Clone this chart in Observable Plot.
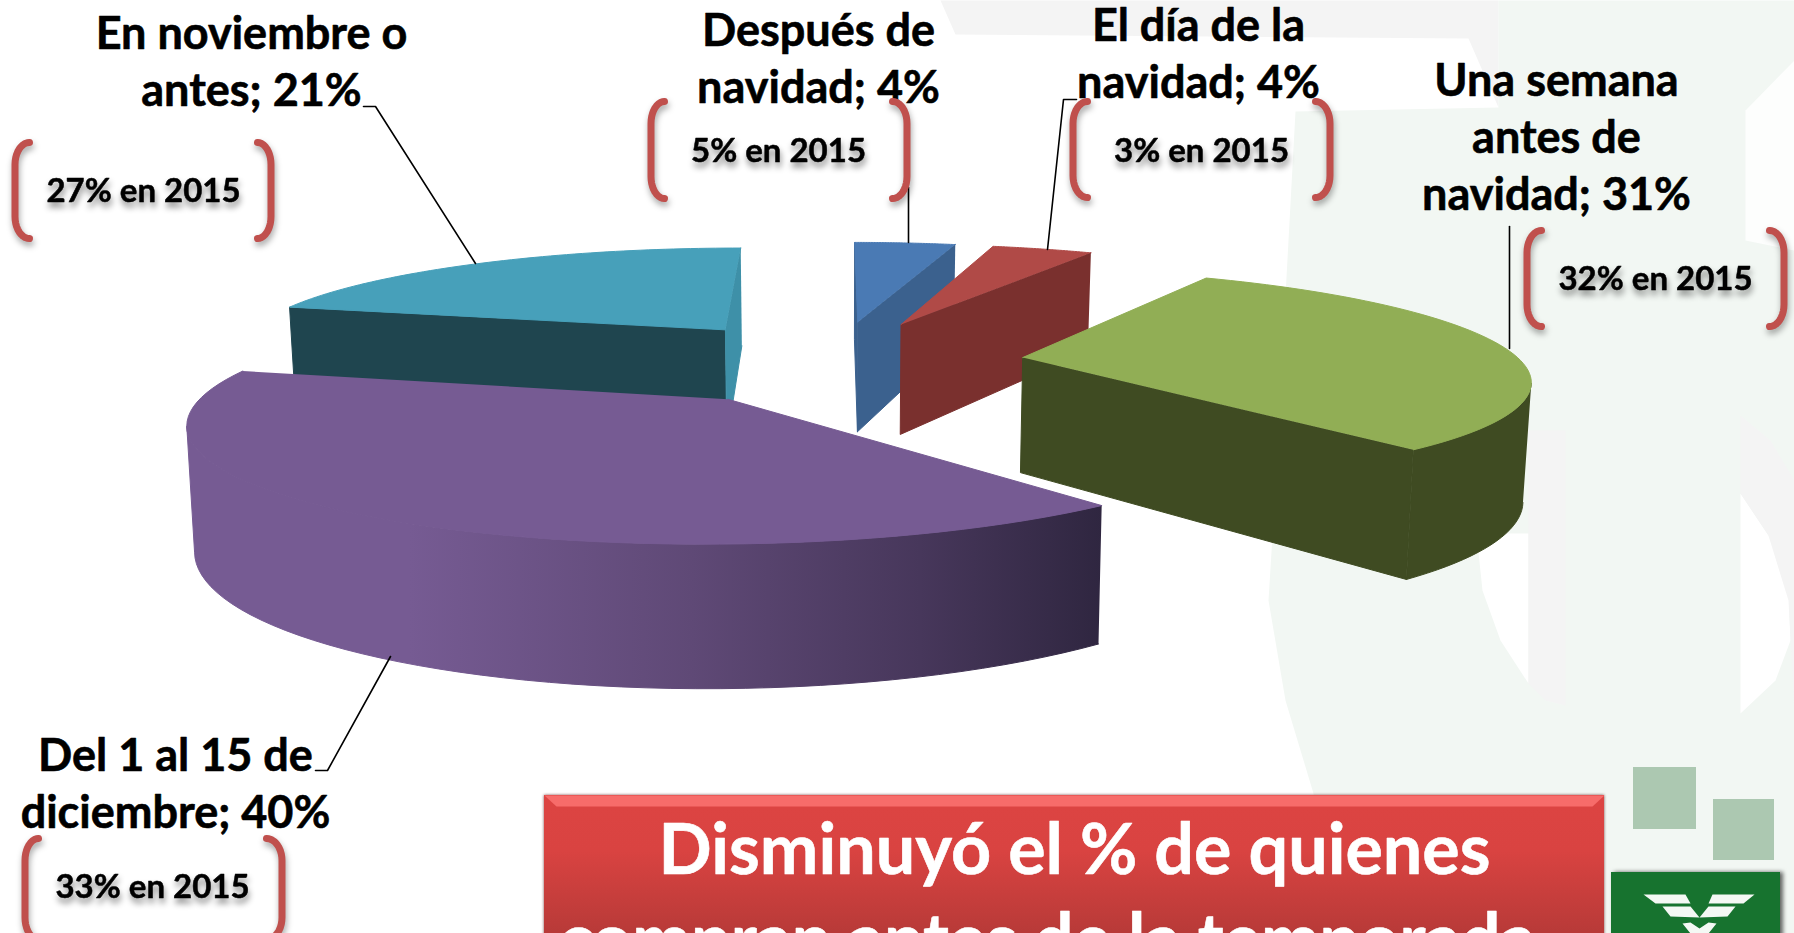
<!DOCTYPE html>
<html lang="es">
<head>
<meta charset="utf-8">
<title>Compras de temporada</title>
<script src="https://cdn.jsdelivr.net/npm/d3@7"></script>
<script src="https://cdn.jsdelivr.net/npm/@observablehq/plot@0.6"></script>
<style>
html,body{margin:0;padding:0;background:#fff;overflow:hidden}
svg{display:block}
</style>
</head>
<body>
<div id="chart"></div>
<script>
// ---- data ----
const categories = ["Después de\nnavidad", "El día de la\nnavidad", "Una semana\nantes de\nnavidad", "Del 1 al 15 de\ndiciembre", "En noviembre o\nantes"];
const values2016 = [4, 4, 31, 40, 21];
const values2015 = [5, 3, 32, 33, 27];
const headlineLines = ["Disminuyó el % de quienes", "compran antes de la temporada"];

// ---- styles of the slices ----
const topColors  = ["#4a7ab4", "#b04a47", "#91ae55", "#765b93", "#47a0ba"];
const wallColors = ["#3b618e", "#7a302e", "#3f4b22", "url(#purpleWall)", "#1f454f"];
const cutStart   = ["#3b618e", "#7a302e", "#3f4b22", "#5a4570", "#1f454f"];
const cutEnd     = ["#3b618e", "#7a302e", "#3f4b22", "#5a4570", "#3e90a8"];
const drawOrder  = [4, 0, 1, 2, 3];

// ---- perspective camera of the 3-D pie ----
const cam = {cx: 835, cy: 361, R: 498, B: 105.5, k: 0.17, explodeU: 0.38, explodeV: 0.40};
function project(u, v, bottom) {
  const s = 1 / (1 - cam.k * v);
  let x = cam.cx + cam.R * u * s;
  let y = cam.cy + cam.B * v * s;
  if (bottom) {
    x = cam.cx + 0.988 * (x - cam.cx);
    y = y + 110 + 0.158 * (y - 325);
  }
  return {x, y};
}
const dir = (deg) => [Math.sin(deg * Math.PI / 180), -Math.cos(deg * Math.PI / 180)];

// ---- faces of each slice, derived from the values ----
let cum = 0;
const sliceFaces = values2016.map((value, i) => {
  const a0 = cum * 3.6, a1 = (cum + value) * 3.6;
  cum += value;
  const mid = dir((a0 + a1) / 2);
  const eu = mid[0] * cam.explodeU, ev = mid[1] * cam.explodeV;
  const n = 64;
  const rimW = d3.range(n + 1).map((j) => {
    const [u, v] = dir(a0 + (a1 - a0) * j / n);
    return [eu + u, ev + v];
  });
  const apexT = project(eu, ev, false), apexB = project(eu, ev, true);
  const rimT = rimW.map(([u, v]) => project(u, v, false));
  const rimB = rimW.map(([u, v]) => project(u, v, true));
  const faces = [];
  if (rimT[0].x < apexT.x) faces.push({pts: [apexT, rimT[0], rimB[0], apexB], color: cutStart[i]});
  if (apexT.x < rimT[n].x) faces.push({pts: [rimT[n], apexT, apexB, rimB[n]], color: cutEnd[i]});
  const vis = d3.range(n).filter((j) => rimT[j + 1].x < rimT[j].x);
  if (vis.length) {
    const lo = vis[0], hi = vis[vis.length - 1] + 1;
    faces.push({pts: [...rimT.slice(lo, hi + 1), ...rimB.slice(lo, hi + 1).reverse()], color: wallColors[i]});
  }
  faces.push({pts: [apexT, ...rimT], color: topColors[i]});
  return faces;
});

// ---- annotation layout ----
const labelPlace = [[818, 45], [1198, 40], [1556, 95], [175, 770], [251, 48]];
const notePlace  = [[778, 161], [1201, 161], [1655, 289], [152, 897], [143, 201]];
const headPlace  = [[1074, 873], [1047, 963]];
const bracketPlace = [
  [647, 664, 892, 910, 100, 199], [1069, 1087, 1315, 1333, 100, 198],
  [1523, 1541, 1769, 1787, 229, 327], [21, 38, 266, 285, 837, 940], [11, 29, 257, 274, 141, 239]
];
const leaders = [
  [[908, 187], [908, 242]],
  [[1076, 99], [1063, 99], [1047, 249]],
  [[1509, 226], [1509, 348]],
  [[315, 770], [327, 770], [390, 656]],
  [[363, 106], [375, 106], [475, 263]]
];
const fontFamily = "Lato, Carlito, sans-serif";
const labelSize = 45, labelLead = 57.5, noteSize = 33, headSize = 70;

function bracket(xOuter, xInner, y0, y1, side) {
  const w = 3.5;
  const xo = xOuter + (side < 0 ? w : 0), xi = xInner - (side > 0 ? w : 0);
  const r = xi - xo, ry = 22;
  const ya = y0 + 1, yb = y1 - 1;
  const arc = (cy, a0, a1) => d3.range(0, 11).map((j) => {
    const a = (a0 + (a1 - a0) * j / 10) * Math.PI / 180;
    return [xi - r * Math.cos(a), cy + ry * Math.sin(a)];
  });
  const pts = [...arc(ya + ry, -90, 0), ...arc(yb - ry, 0, 90)];
  return side < 0 ? pts : pts.map(([x, y]) => [xo + xi - x, y]);
}

const poly = (pts, fill, extra = {}) =>
  Plot.line(pts, {x: (d) => d[0], y: (d) => d[1], fill, stroke: "none", ...extra});

// ---- background watermark ----
const pale = "#f2f7f3", greyWm = "#f4f4f4";
const watermark = [
  poly([[940, 0], [1498, 0], [1498, 107], [1468, 38], [955, 34]], greyWm),
  poly([[1498, 0], [1794, 0], [1794, 933], [1330, 933], [1313, 793], [1285, 700], [1268, 600], [1272, 535], [1295, 111], [1498, 107]], pale),
  poly([[1476, 533], [1528, 533], [1528, 683], [1500, 640], [1482, 590]], "#ffffff"),
  poly([[1528, 430], [1565, 430], [1565, 705], [1545, 700], [1528, 683]], greyWm),
  poly([[1740, 493], [1768, 535], [1788, 590], [1790, 640], [1775, 680], [1740, 713]], "#ffffff"),
  poly([[1740, 415], [1770, 440], [1794, 480], [1794, 715], [1788, 600], [1768, 535], [1740, 493]], greyWm),
  poly([[1794, 60], [1745, 110], [1745, 240], [1794, 250]], "#fdfefd")
];

// ---- page furniture: gradients ----
function defs() {
  const svg = d3.create("svg:defs");
  const grad = (id, x1, y1, x2, y2, stops) => {
    const g = svg.append("linearGradient").attr("id", id).attr("gradientUnits", "userSpaceOnUse")
      .attr("x1", x1).attr("y1", y1).attr("x2", x2).attr("y2", y2);
    stops.forEach(([o, c]) => g.append("stop").attr("offset", o).attr("stop-color", c));
  };
  grad("purpleWall", 190, 0, 1102, 0, [[0, "#765b93"], [0.24, "#765b93"], [0.55, "#5f4976"], [0.8, "#47375b"], [1, "#2f2640"]]);
  grad("boxFill", 0, 806, 0, 933, [[0, "#dc4442"], [0.35, "#d94341"], [1, "#b83a38"]]);
  return svg.node();
}

const pieMarks = drawOrder.flatMap((i) => sliceFaces[i].map((f) =>
  Plot.line(f.pts, {x: "x", y: "y", fill: f.color, stroke: f.color, strokeWidth: 1})));

const labelRows = categories.map((c, i) => ({
  text: `${c}; ${values2016[i]}%`, x: labelPlace[i][0], base: labelPlace[i][1]
}));
const noteRows = values2015.map((v, i) => ({
  text: `${v}% en 2015`, x: notePlace[i][0], base: notePlace[i][1]
}));
const headRows = headlineLines.map((text, i) => ({text, x: headPlace[i][0], base: headPlace[i][1]}));

const bracketLines = bracketPlace.flatMap(([a, b, c, d, y0, y1]) => [bracket(a, b, y0, y1, -1), bracket(c, d, y0, y1, 1)]);

const chart = Plot.plot({
  width: 1794, height: 933, margin: 0,
  x: {domain: [0, 1794], range: [0, 1794], axis: null},
  y: {domain: [0, 933], range: [0, 933], axis: null},
  style: {background: "transparent"},
  marks: [
    defs,
    ...watermark,
    ...pieMarks,
    ...leaders.map((l) => Plot.line(l, {x: (d) => d[0], y: (d) => d[1], stroke: "#000", strokeWidth: 1.6})),
    // red headline box
    Plot.rect([0], {x1: () => 544, x2: () => 1604, y1: () => 795, y2: () => 940, fill: "url(#boxFill)", imageFilter: "drop-shadow(0px 0px 1.5px rgba(90,30,30,.8))"}),
    poly([[544, 795], [1604, 795], [1592, 806], [556, 806]], "#f76c6a"),
    Plot.text(headRows, {x: "x", y: (d) => d.base - 0.71 * headSize, text: "text", fontFamily, fontWeight: 700, fontSize: headSize, lineAnchor: "top", textAnchor: "middle", fill: "#fff", stroke: "#fff", strokeWidth: 0.6}),
    // logo
    Plot.rect([0], {x1: () => 1633, x2: () => 1696, y1: () => 767, y2: () => 829, fill: "#acc8b1"}),
    Plot.rect([0], {x1: () => 1713, x2: () => 1774, y1: () => 799, y2: () => 860, fill: "#acc8b1"}),
    Plot.rect([0], {x1: () => 1611, x2: () => 1780, y1: () => 872, y2: () => 940, fill: "#17732f", imageFilter: "drop-shadow(3px 0px 2px rgba(0,0,0,.6))"}),
    poly([[1643, 894], [1685, 894], [1690, 903], [1655, 903]], "#f4f8f4"),
    poly([[1662, 906], [1690, 906], [1699, 917], [1670, 916]], "#f4f8f4"),
    poly([[1754, 894], [1712, 894], [1708, 903], [1743, 903]], "#f4f8f4"),
    poly([[1735, 906], [1708, 906], [1699, 917], [1727, 916]], "#f4f8f4"),
    poly([[1682, 923], [1690, 922], [1699, 928], [1708, 922], [1716, 923], [1708, 933], [1690, 933]], "#f4f8f4"),
    // labels
    Plot.text(labelRows, {x: "x", y: (d) => d.base - 0.71 * labelLead, text: "text", fontFamily, fontWeight: 700, fontSize: labelSize, lineHeight: labelLead / labelSize, lineAnchor: "top", textAnchor: "middle", fill: "#000", stroke: "#000", strokeWidth: 0.6}),
    ...bracketLines.map((b) => Plot.line(b, {x: (d) => d[0], y: (d) => d[1], stroke: "#c0504d", strokeWidth: 7, curve: "linear", imageFilter: "drop-shadow(1px 4px 3px rgba(0,0,0,.35))"})),
    Plot.text(noteRows, {x: "x", y: (d) => d.base - 0.71 * noteSize, text: "text", fontFamily, fontWeight: 700, fontSize: noteSize, lineAnchor: "top", textAnchor: "middle", fill: "#000", stroke: "#000", strokeWidth: 0.5, imageFilter: "drop-shadow(1px 5px 3px rgba(0,0,0,.45))"})
  ]
});
document.getElementById("chart").append(chart);
</script>
</body>
</html>
